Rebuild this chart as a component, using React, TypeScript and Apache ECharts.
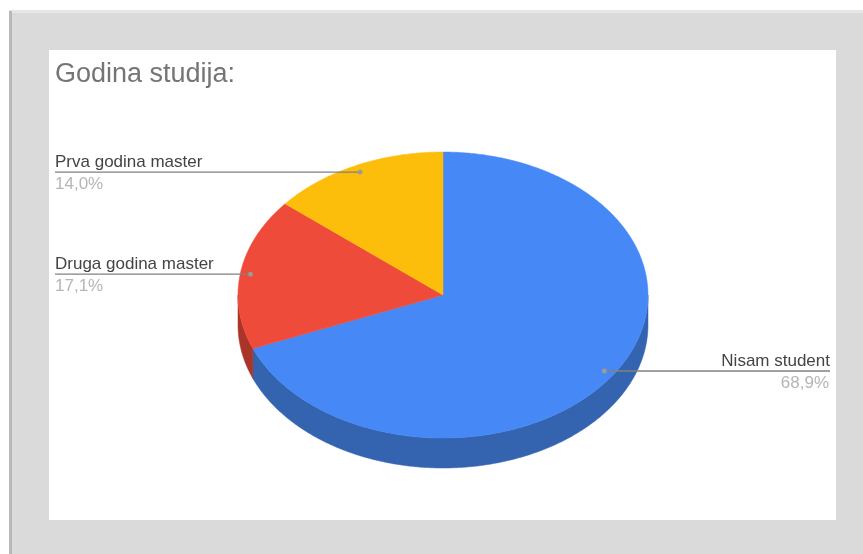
import React, { useEffect, useRef } from "react";
import * as echarts from "echarts";

const categories = ["Nisam student", "Druga godina master", "Prva godina master"];
const shares = [68.9, 17.1, 14.0];
const percentLabels = ["68,9%", "17,1%", "14,0%"];
const topColors = ["#4688f6", "#ee4b3a", "#fdbd0b"];
const wallColors = ["#3463b0", "#ab3428", "#b58a0c"];

const CX = 443;
const CY = 295;
const RX = 205;
const RY = 143;
const DEPTH = 30;
const ANCHOR = 0.95;
const FONT = '"Liberation Sans", Arial, sans-serif';

const rad = (t: number) => (t * Math.PI) / 180;
const px = (t: number, f = 1) => CX + RX * f * Math.sin(rad(t));
const py = (t: number, f = 1) => CY - RY * f * Math.cos(rad(t));

function arc(a: number, b: number, dy = 0): number[][] {
  const out: number[][] = [];
  const n = Math.max(2, Math.ceil((b - a) * 2));
  for (let i = 0; i <= n; i++) {
    const t = a + ((b - a) * i) / n;
    out.push([px(t), py(t) + dy]);
  }
  return out;
}

export default function App() {
  const ref = useRef<HTMLDivElement>(null);
  useEffect(() => {
    const chart = echarts.init(ref.current!, undefined, { renderer: "svg" });
    const total = shares.reduce((s, v) => s + v, 0);
    const starts = shares.map((_, i) => (shares.slice(0, i).reduce((s, v) => s + v, 0) / total) * 360);

    chart.setOption({
      animation: false,
      backgroundColor: "#ffffff",
      title: {
        text: "Godina studija:",
        left: 50,
        top: 54,
        textStyle: { fontFamily: FONT, fontSize: 27, fontWeight: "normal", color: "#757575" },
      },
      graphic: {
        elements: [
          { type: "rect", z: -10, shape: { x: 12, y: 13, width: 851, height: 541 }, style: { fill: "#dadada" } },
          { type: "rect", z: -10, shape: { x: 9, y: 10, width: 854, height: 3 }, style: { fill: "#e6e6e6" } },
          { type: "rect", z: -10, shape: { x: 9, y: 11, width: 3, height: 543 }, style: { fill: "#b8b8b8" } },
          { type: "rect", z: -10, shape: { x: 49, y: 50, width: 787, height: 470 }, style: { fill: "#ffffff" } },
        ],
      },
      series: [
        {
          // side walls first, so that the tops lie above them
          type: "custom",
          coordinateSystem: "none",
          z: 2,
          silent: true,
          data: shares,
          renderItem: (params: any) => {
            const i = params.dataIndex;
            const a = starts[i];
            const b = a + (shares[i] / total) * 360;
            const from = Math.max(a, 90);
            const to = Math.min(b, 270);
            if (from >= to) return { type: "group", children: [] };
            const top = arc(from, to);
            const bottom = arc(from, to, DEPTH).reverse();
            return {
              type: "polygon",
              shape: { points: [...top, ...bottom] },
              style: { fill: wallColors[i], stroke: wallColors[i], lineWidth: 0.5 },
            };
          },
        },
        {
          type: "custom",
          coordinateSystem: "none",
          z: 3,
          silent: true,
          data: shares,
          renderItem: (params: any) => {
            const i = params.dataIndex;
            const a = starts[i];
            const b = a + (shares[i] / total) * 360;
            return {
              type: "polygon",
              shape: { points: [[CX, CY], ...arc(a, b)] },
              style: { fill: topColors[i], stroke: topColors[i], lineWidth: 0.5 },
            };
          },
        },
        {
          type: "custom",
          coordinateSystem: "none",
          z: 4,
          silent: true,
          data: shares,
          renderItem: (params: any) => {
            const i = params.dataIndex;
            const mid = starts[i] + (shares[i] / total) * 180;
            const ax = px(mid, ANCHOR);
            const ay = py(mid, ANCHOR);
            const right = ax > CX;
            const edge = right ? 830 : 55;
            const align = right ? "right" : "left";
            return {
              type: "group",
              children: [
                {
                  type: "line",
                  shape: { x1: edge, y1: ay, x2: ax, y2: ay },
                  style: { stroke: "#808080", lineWidth: 1.3 },
                },
                { type: "circle", shape: { cx: ax, cy: ay, r: 2.5 }, style: { fill: "#9a9a9a" } },
                {
                  type: "text",
                  style: {
                    x: edge,
                    y: ay - 2.5,
                    text: categories[i],
                    align,
                    verticalAlign: "bottom",
                    fontFamily: FONT,
                    fontSize: 17,
                    fill: "#444444",
                  },
                },
                {
                  type: "text",
                  style: {
                    x: right ? edge - 1 : edge,
                    y: ay + 3,
                    text: percentLabels[i],
                    align,
                    verticalAlign: "top",
                    fontFamily: FONT,
                    fontSize: 17,
                    fill: "#b5b5b5",
                  },
                },
              ],
            };
          },
        },
      ],
    });
    return () => chart.dispose();
  }, []);

  return (
    <div
      ref={ref}
      style={{ position: "fixed", left: 0, top: 0, width: 863, height: 554, filter: "blur(0.4px)" }}
    />
  );
}
